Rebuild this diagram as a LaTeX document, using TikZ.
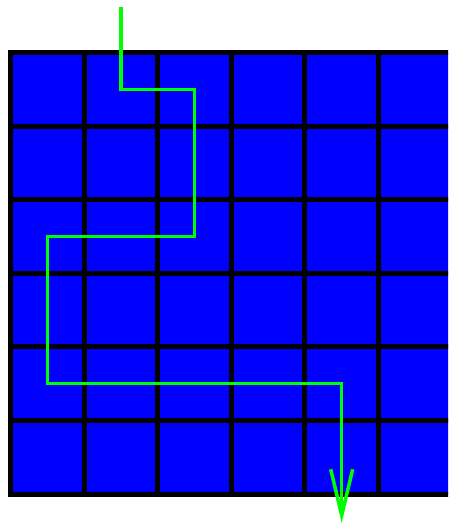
\documentclass[tikz,border=0pt]{standalone}
\usetikzlibrary{arrows.meta}
\definecolor{boardblue}{HTML}{0000FF}
\definecolor{walkgreen}{HTML}{00FF00}
\tikzset{
  board/.style={draw=black, line width=5pt, fill=boardblue},
  boardlines/.style={draw=black, line width=5pt},
  walk/.style={-{Straight Barb[length=46pt, width=22pt]}, draw=walkgreen, line width=3.5pt}
}
\begin{document}
\begin{tikzpicture}[x=1pt, y=-1pt]
  \useasboundingbox (0,0) rectangle (448,525);
  \clip (0,0) rectangle (448,525);
  \begin{scope}[shift={(10.5,52.5)}, x=73.6pt, y=-73.6pt]
    % 6x6 board
    \draw[board] (0,0) rectangle (6,6);
    \foreach \k in {1,...,5} {
      \draw[boardlines] (\k,0) -- (\k,6);
      \draw[boardlines] (0,\k) -- (6,\k);
    }
    % path through the cells
    \coordinate (entry) at (1.5,-0.62);
    \coordinate (exit) at (4.5,6.39);
    \draw[walk] (entry) -- (1.5,0.5) -- (2.5,0.5) -- (2.5,2.5) -- (0.5,2.5)
      -- (0.5,4.5) -- (4.5,4.5) -- (exit);
  \end{scope}
\end{tikzpicture}
\end{document}
